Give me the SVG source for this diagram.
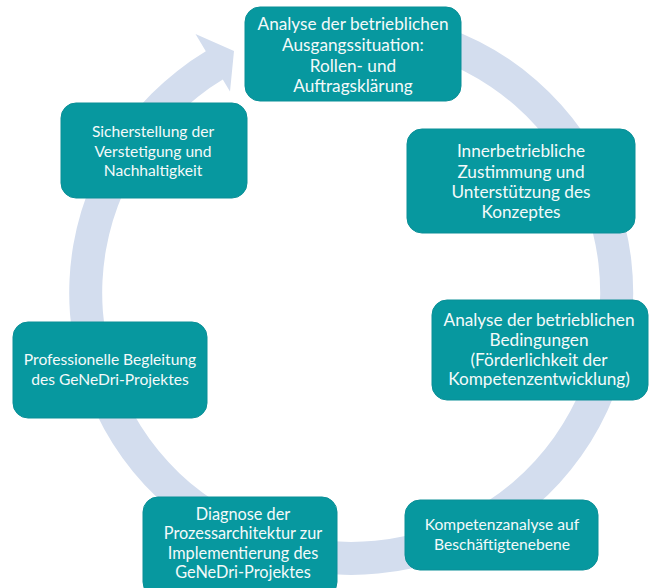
<svg xmlns="http://www.w3.org/2000/svg" width="650" height="588" viewBox="0 0 650 588">
  <style>
    .box { fill: #07989f; stroke: #0a8f97; stroke-width: 1; }
    .lbl { font-family: Lato, "Liberation Sans", sans-serif; font-size: 16px; fill: #f4fafa; text-anchor: middle; }
    .big { font-size: 17.2px; }
    .mid { font-size: 16.3px; }
    .sml { font-size: 15.6px; }
    .ring { fill: #d3ddee; stroke: none; }
  </style>
  <rect width="650" height="588" fill="#ffffff"/>
  <g id="connectors">
    <path class="ring" d="M 311.7,13.7 A 282 282 0 1 1 205.8,51.3 L 195.5,34.1 L 234,51 L 230,91.6 L 222.8,79.6 A 249 249 0 1 0 316.3,46.4 Z"/>
  </g>
  <g id="n1">
    <rect class="box" x="245" y="7" width="216" height="94" rx="15"/>
    <text class="lbl big" x="353" y="30">Analyse der betrieblichen</text>
    <text class="lbl big" x="353" y="51">Ausgangssituation:</text>
    <text class="lbl big" x="353" y="71.5">Rollen- und</text>
    <text class="lbl big" x="353" y="92">Auftragsklärung</text>
  </g>
  <g id="n2">
    <rect class="box" x="407" y="129" width="228" height="104" rx="15"/>
    <text class="lbl big" x="521" y="157">Innerbetriebliche</text>
    <text class="lbl big" x="521" y="177.5">Zustimmung und</text>
    <text class="lbl big" x="521" y="198">Unterstützung des</text>
    <text class="lbl big" x="521" y="218">Konzeptes</text>
  </g>
  <g id="n3">
    <rect class="box" x="432" y="300" width="216" height="100" rx="15"/>
    <text class="lbl big" x="539" y="326">Analyse der betrieblichen</text>
    <text class="lbl big" x="539" y="345.5">Bedingungen</text>
    <text class="lbl big" x="539" y="365.5">(Förderlichkeit der</text>
    <text class="lbl big" x="539" y="385">Kompetenzentwicklung)</text>
  </g>
  <g id="n4">
    <rect class="box" x="405" y="500" width="193" height="70" rx="15"/>
    <text class="lbl sml" x="502" y="529.5">Kompetenzanalyse auf</text>
    <text class="lbl sml" x="502" y="550">Beschäftigtenebene</text>
  </g>
  <g id="n5">
    <rect class="box" x="143" y="497" width="194" height="100" rx="15"/>
    <text class="lbl mid" x="243" y="519.5">Diagnose der</text>
    <text class="lbl mid" x="243" y="539">Prozessarchitektur zur</text>
    <text class="lbl mid" x="243" y="558.5">Implementierung des</text>
    <text class="lbl mid" x="243" y="578">GeNeDri-Projektes</text>
  </g>
  <g id="n6">
    <rect class="box" x="13" y="322" width="194" height="96" rx="15"/>
    <text class="lbl sml" x="110" y="365">Professionelle Begleitung</text>
    <text class="lbl sml" x="110" y="384.5">des GeNeDri-Projektes</text>
  </g>
  <g id="n7">
    <rect class="box" x="61" y="103" width="186" height="95" rx="15"/>
    <text class="lbl sml" x="153" y="137">Sicherstellung der</text>
    <text class="lbl sml" x="153" y="156.5">Verstetigung und</text>
    <text class="lbl sml" x="153" y="176">Nachhaltigkeit</text>
  </g>
</svg>
